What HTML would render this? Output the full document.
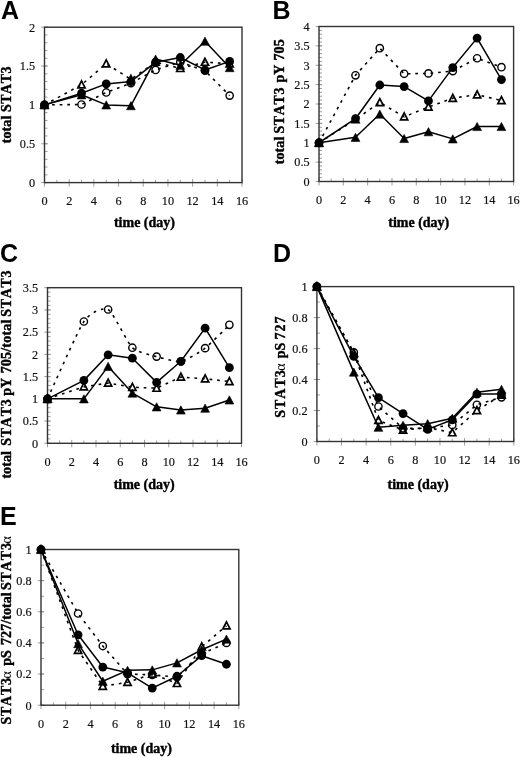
<!DOCTYPE html>
<html><head><meta charset="utf-8"><title>STAT3 time course</title>
<style>
html,body{margin:0;padding:0;background:#fff;}
body{width:520px;height:757px;overflow:hidden;}
svg{display:block;filter:blur(0.35px);}
text{font-kerning:none;}
.L{font-family:"Liberation Sans",sans-serif;font-weight:bold;font-size:25px;fill:#000;}
.t{font-family:"Liberation Serif",serif;font-size:13.3px;fill:#111;stroke:#111;stroke-width:0.2;}
.b{font-family:"Liberation Serif",serif;font-weight:bold;font-size:14px;fill:#000;stroke:#000;stroke-width:0.4;}
.a{font-family:"Liberation Serif",serif;font-size:14px;fill:#000;}
.ax{fill:none;stroke:#333;stroke-width:1.4;}
.tk{fill:none;stroke:#8c8c8c;stroke-width:0.85;}
.sl{fill:none;stroke:#000;stroke-width:1.5;stroke-linejoin:round;}
.dl{fill:none;stroke:#000;stroke-width:1.6;stroke-dasharray:2.7 4.9;}
.fc{fill:#000;}
.ft{fill:#000;stroke:#000;stroke-width:0.6;stroke-linejoin:round;}
.oc{fill:none;stroke:#000;stroke-width:1.4;}
.ot{fill:none;stroke:#000;stroke-width:1.7;stroke-linejoin:miter;}
</style></head>
<body><svg width="520" height="757" viewBox="0 0 520 757">
<text x="1" y="18.7" class="L">A</text>
<path d="M44.5 182.6h3 M44.5 174.83h3 M44.5 167.06h3 M44.5 159.29h3 M44.5 151.52h3 M44.5 143.75h3 M44.5 135.98h3 M44.5 128.21h3 M44.5 120.44h3 M44.5 112.67h3 M44.5 104.9h3 M44.5 97.13h3 M44.5 89.36h3 M44.5 81.59h3 M44.5 73.82h3 M44.5 66.05h3 M44.5 58.28h3 M44.5 50.51h3 M44.5 42.74h3 M44.5 34.97h3 M44.5 27.2h3 M41.2 182.6h6.5 M41.2 143.75h6.5 M41.2 104.9h6.5 M41.2 66.05h6.5 M41.2 27.2h6.5 M44.5 179.1v7.5 M56.84 179.8v2.8 M69.19 179.1v7.5 M81.53 179.8v2.8 M93.88 179.1v7.5 M106.22 179.8v2.8 M118.56 179.1v7.5 M130.91 179.8v2.8 M143.25 179.1v7.5 M155.59 179.8v2.8 M167.94 179.1v7.5 M180.28 179.8v2.8 M192.62 179.1v7.5 M204.97 179.8v2.8 M217.31 179.1v7.5 M229.66 179.8v2.8 M242 179.1v7.5" class="tk"/>
<rect x="44.5" y="27.2" width="197.5" height="155.4" class="ax"/>
<text x="35.1" y="186.9" class="t" text-anchor="end" textLength="6.12" lengthAdjust="spacingAndGlyphs">0</text>
<text x="35.1" y="148.05" class="t" text-anchor="end" textLength="15.29" lengthAdjust="spacingAndGlyphs">0.5</text>
<text x="35.1" y="109.2" class="t" text-anchor="end" textLength="6.12" lengthAdjust="spacingAndGlyphs">1</text>
<text x="35.1" y="70.35" class="t" text-anchor="end" textLength="15.29" lengthAdjust="spacingAndGlyphs">1.5</text>
<text x="35.1" y="31.5" class="t" text-anchor="end" textLength="6.12" lengthAdjust="spacingAndGlyphs">2</text>
<text x="44.5" y="204.9" class="t" text-anchor="middle" textLength="6.12" lengthAdjust="spacingAndGlyphs">0</text>
<text x="69.19" y="204.9" class="t" text-anchor="middle" textLength="6.12" lengthAdjust="spacingAndGlyphs">2</text>
<text x="93.88" y="204.9" class="t" text-anchor="middle" textLength="6.12" lengthAdjust="spacingAndGlyphs">4</text>
<text x="118.56" y="204.9" class="t" text-anchor="middle" textLength="6.12" lengthAdjust="spacingAndGlyphs">6</text>
<text x="143.25" y="204.9" class="t" text-anchor="middle" textLength="6.12" lengthAdjust="spacingAndGlyphs">8</text>
<text x="167.94" y="204.9" class="t" text-anchor="middle" textLength="12.24" lengthAdjust="spacingAndGlyphs">10</text>
<text x="192.62" y="204.9" class="t" text-anchor="middle" textLength="12.24" lengthAdjust="spacingAndGlyphs">12</text>
<text x="217.31" y="204.9" class="t" text-anchor="middle" textLength="12.24" lengthAdjust="spacingAndGlyphs">14</text>
<text x="242" y="204.9" class="t" text-anchor="middle" textLength="12.24" lengthAdjust="spacingAndGlyphs">16</text>
<text x="144.45" y="226.9" class="b" text-anchor="middle">time (day)</text>
<text transform="translate(10.9 143.1) rotate(-90)" x="-0.23" class="b" textLength="27.67" lengthAdjust="spacing">total</text>
<text transform="translate(10.9 111.3) rotate(-90)" x="-0.75" class="b" textLength="45.53" lengthAdjust="spacing">STAT3</text>
<path d="M44.5 104.9 L81.53 104.51 L106.22 92.47 L130.91 83.14 L155.59 69.93 L180.28 62.16 L204.97 70.71 L229.66 95.58" class="dl"/>
<path d="M44.5 104.9 L81.53 84.7 L106.22 63.72 L130.91 79.26 L155.59 62.16 L180.28 68.38 L204.97 62.16 L229.66 63.72" class="dl"/>
<path d="M44.5 104.9 L81.53 94.8 L106.22 104.9 L130.91 105.68 L155.59 59.06 L180.28 65.27 L204.97 41.19 L229.66 67.6" class="sl"/>
<path d="M44.5 104.9 L81.53 93.25 L106.22 83.92 L130.91 81.59 L155.59 62.16 L180.28 57.5 L204.97 69.93 L229.66 61.39" class="sl"/>
<circle cx="44.5" cy="104.9" r="3.65" class="oc"/>
<circle cx="81.53" cy="104.51" r="3.65" class="oc"/>
<circle cx="106.22" cy="92.47" r="3.65" class="oc"/>
<circle cx="130.91" cy="83.14" r="3.65" class="oc"/>
<circle cx="155.59" cy="69.93" r="3.65" class="oc"/>
<circle cx="180.28" cy="62.16" r="3.65" class="oc"/>
<circle cx="204.97" cy="70.71" r="3.65" class="oc"/>
<circle cx="229.66" cy="95.58" r="3.65" class="oc"/>
<path d="M44.5 101l-3.6 7h7.2z" class="ot"/>
<path d="M81.53 80.8l-3.6 7h7.2z" class="ot"/>
<path d="M106.22 59.82l-3.6 7h7.2z" class="ot"/>
<path d="M130.91 75.36l-3.6 7h7.2z" class="ot"/>
<path d="M155.59 58.26l-3.6 7h7.2z" class="ot"/>
<path d="M180.28 64.48l-3.6 7h7.2z" class="ot"/>
<path d="M204.97 58.26l-3.6 7h7.2z" class="ot"/>
<path d="M229.66 59.82l-3.6 7h7.2z" class="ot"/>
<path d="M44.5 100.8l-4.4 8.2h8.8z" class="ft"/>
<path d="M81.53 90.7l-4.4 8.2h8.8z" class="ft"/>
<path d="M106.22 100.8l-4.4 8.2h8.8z" class="ft"/>
<path d="M130.91 101.58l-4.4 8.2h8.8z" class="ft"/>
<path d="M155.59 54.96l-4.4 8.2h8.8z" class="ft"/>
<path d="M180.28 61.17l-4.4 8.2h8.8z" class="ft"/>
<path d="M204.97 37.09l-4.4 8.2h8.8z" class="ft"/>
<path d="M229.66 63.5l-4.4 8.2h8.8z" class="ft"/>
<circle cx="44.5" cy="104.9" r="4.4" class="fc"/>
<circle cx="81.53" cy="93.25" r="4.4" class="fc"/>
<circle cx="106.22" cy="83.92" r="4.4" class="fc"/>
<circle cx="130.91" cy="81.59" r="4.4" class="fc"/>
<circle cx="155.59" cy="62.16" r="4.4" class="fc"/>
<circle cx="180.28" cy="57.5" r="4.4" class="fc"/>
<circle cx="204.97" cy="69.93" r="4.4" class="fc"/>
<circle cx="229.66" cy="61.39" r="4.4" class="fc"/>
<text x="272.5" y="18.5" class="L">B</text>
<path d="M319 181.5h3 M319 177.62h3 M319 173.75h3 M319 169.88h3 M319 166h3 M319 162.12h3 M319 158.25h3 M319 154.38h3 M319 150.5h3 M319 146.62h3 M319 142.75h3 M319 138.88h3 M319 135h3 M319 131.12h3 M319 127.25h3 M319 123.38h3 M319 119.5h3 M319 115.62h3 M319 111.75h3 M319 107.88h3 M319 104h3 M319 100.12h3 M319 96.25h3 M319 92.37h3 M319 88.5h3 M319 84.62h3 M319 80.75h3 M319 76.88h3 M319 73h3 M319 69.12h3 M319 65.25h3 M319 61.38h3 M319 57.5h3 M319 53.62h3 M319 49.75h3 M319 45.88h3 M319 42h3 M319 38.12h3 M319 34.25h3 M319 30.38h3 M319 26.5h3 M315.7 181.5h6.5 M315.7 162.12h6.5 M315.7 142.75h6.5 M315.7 123.38h6.5 M315.7 104h6.5 M315.7 84.62h6.5 M315.7 65.25h6.5 M315.7 45.88h6.5 M315.7 26.5h6.5 M319 178v7.5 M331.16 178.7v2.8 M343.32 178v7.5 M355.49 178.7v2.8 M367.65 178v7.5 M379.81 178.7v2.8 M391.98 178v7.5 M404.14 178.7v2.8 M416.3 178v7.5 M428.46 178.7v2.8 M440.62 178v7.5 M452.79 178.7v2.8 M464.95 178v7.5 M477.11 178.7v2.8 M489.28 178v7.5 M501.44 178.7v2.8 M513.6 178v7.5" class="tk"/>
<rect x="319" y="26.5" width="194.6" height="155" class="ax"/>
<text x="309.6" y="185.8" class="t" text-anchor="end" textLength="6.12" lengthAdjust="spacingAndGlyphs">0</text>
<text x="309.6" y="166.43" class="t" text-anchor="end" textLength="15.29" lengthAdjust="spacingAndGlyphs">0.5</text>
<text x="309.6" y="147.05" class="t" text-anchor="end" textLength="6.12" lengthAdjust="spacingAndGlyphs">1</text>
<text x="309.6" y="127.67" class="t" text-anchor="end" textLength="15.29" lengthAdjust="spacingAndGlyphs">1.5</text>
<text x="309.6" y="108.3" class="t" text-anchor="end" textLength="6.12" lengthAdjust="spacingAndGlyphs">2</text>
<text x="309.6" y="88.92" class="t" text-anchor="end" textLength="15.29" lengthAdjust="spacingAndGlyphs">2.5</text>
<text x="309.6" y="69.55" class="t" text-anchor="end" textLength="6.12" lengthAdjust="spacingAndGlyphs">3</text>
<text x="309.6" y="50.17" class="t" text-anchor="end" textLength="15.29" lengthAdjust="spacingAndGlyphs">3.5</text>
<text x="309.6" y="30.8" class="t" text-anchor="end" textLength="6.12" lengthAdjust="spacingAndGlyphs">4</text>
<text x="319" y="203.8" class="t" text-anchor="middle" textLength="6.12" lengthAdjust="spacingAndGlyphs">0</text>
<text x="343.32" y="203.8" class="t" text-anchor="middle" textLength="6.12" lengthAdjust="spacingAndGlyphs">2</text>
<text x="367.65" y="203.8" class="t" text-anchor="middle" textLength="6.12" lengthAdjust="spacingAndGlyphs">4</text>
<text x="391.98" y="203.8" class="t" text-anchor="middle" textLength="6.12" lengthAdjust="spacingAndGlyphs">6</text>
<text x="416.3" y="203.8" class="t" text-anchor="middle" textLength="6.12" lengthAdjust="spacingAndGlyphs">8</text>
<text x="440.62" y="203.8" class="t" text-anchor="middle" textLength="12.24" lengthAdjust="spacingAndGlyphs">10</text>
<text x="464.95" y="203.8" class="t" text-anchor="middle" textLength="12.24" lengthAdjust="spacingAndGlyphs">12</text>
<text x="489.28" y="203.8" class="t" text-anchor="middle" textLength="12.24" lengthAdjust="spacingAndGlyphs">14</text>
<text x="513.6" y="203.8" class="t" text-anchor="middle" textLength="12.24" lengthAdjust="spacingAndGlyphs">16</text>
<text x="418.75" y="226.9" class="b" text-anchor="middle">time (day)</text>
<text transform="translate(284.2 164) rotate(-90)" x="-0.23" class="b" textLength="27.57" lengthAdjust="spacing">total</text>
<text transform="translate(284.2 132.8) rotate(-90)" x="-0.75" class="b" textLength="46.03" lengthAdjust="spacing">STAT3</text>
<text transform="translate(284.2 82.4) rotate(-90)" x="-0.18" class="b">pY</text>
<text transform="translate(284.2 59.8) rotate(-90)" x="-0.8" class="b" textLength="21.31" lengthAdjust="spacing">705</text>
<path d="M319 142.75 L355.49 75.32 L379.81 48.2 L404.14 73.78 L428.46 73.39 L452.79 71.06 L477.11 58.27 L501.44 67.19" class="dl"/>
<path d="M319 142.75 L355.49 119.5 L379.81 102.45 L404.14 116.79 L428.46 107.1 L452.79 98.19 L477.11 94.7 L501.44 100.51" class="dl"/>
<path d="M319 142.75 L355.49 137.32 L379.81 114.08 L404.14 138.49 L428.46 131.71 L452.79 138.88 L477.11 126.47 L501.44 126.47" class="sl"/>
<path d="M319 142.75 L355.49 118.72 L379.81 85.01 L404.14 86.56 L428.46 100.9 L452.79 67.58 L477.11 38.12 L501.44 79.59" class="sl"/>
<circle cx="319" cy="142.75" r="3.65" class="oc"/>
<circle cx="355.49" cy="75.32" r="3.65" class="oc"/>
<circle cx="379.81" cy="48.2" r="3.65" class="oc"/>
<circle cx="404.14" cy="73.78" r="3.65" class="oc"/>
<circle cx="428.46" cy="73.39" r="3.65" class="oc"/>
<circle cx="452.79" cy="71.06" r="3.65" class="oc"/>
<circle cx="477.11" cy="58.27" r="3.65" class="oc"/>
<circle cx="501.44" cy="67.19" r="3.65" class="oc"/>
<path d="M319 138.85l-3.6 7h7.2z" class="ot"/>
<path d="M355.49 115.6l-3.6 7h7.2z" class="ot"/>
<path d="M379.81 98.55l-3.6 7h7.2z" class="ot"/>
<path d="M404.14 112.89l-3.6 7h7.2z" class="ot"/>
<path d="M428.46 103.2l-3.6 7h7.2z" class="ot"/>
<path d="M452.79 94.29l-3.6 7h7.2z" class="ot"/>
<path d="M477.11 90.8l-3.6 7h7.2z" class="ot"/>
<path d="M501.44 96.61l-3.6 7h7.2z" class="ot"/>
<path d="M319 138.65l-4.4 8.2h8.8z" class="ft"/>
<path d="M355.49 133.22l-4.4 8.2h8.8z" class="ft"/>
<path d="M379.81 109.98l-4.4 8.2h8.8z" class="ft"/>
<path d="M404.14 134.39l-4.4 8.2h8.8z" class="ft"/>
<path d="M428.46 127.61l-4.4 8.2h8.8z" class="ft"/>
<path d="M452.79 134.78l-4.4 8.2h8.8z" class="ft"/>
<path d="M477.11 122.38l-4.4 8.2h8.8z" class="ft"/>
<path d="M501.44 122.38l-4.4 8.2h8.8z" class="ft"/>
<circle cx="319" cy="142.75" r="4.4" class="fc"/>
<circle cx="355.49" cy="118.72" r="4.4" class="fc"/>
<circle cx="379.81" cy="85.01" r="4.4" class="fc"/>
<circle cx="404.14" cy="86.56" r="4.4" class="fc"/>
<circle cx="428.46" cy="100.9" r="4.4" class="fc"/>
<circle cx="452.79" cy="67.58" r="4.4" class="fc"/>
<circle cx="477.11" cy="38.12" r="4.4" class="fc"/>
<circle cx="501.44" cy="79.59" r="4.4" class="fc"/>
<text x="0" y="262.2" class="L">C</text>
<path d="M47.5 443.3h3 M47.5 438.85h3 M47.5 434.41h3 M47.5 429.96h3 M47.5 425.52h3 M47.5 421.07h3 M47.5 416.63h3 M47.5 412.18h3 M47.5 407.73h3 M47.5 403.29h3 M47.5 398.84h3 M47.5 394.4h3 M47.5 389.95h3 M47.5 385.51h3 M47.5 381.06h3 M47.5 376.61h3 M47.5 372.17h3 M47.5 367.72h3 M47.5 363.28h3 M47.5 358.83h3 M47.5 354.39h3 M47.5 349.94h3 M47.5 345.49h3 M47.5 341.05h3 M47.5 336.6h3 M47.5 332.16h3 M47.5 327.71h3 M47.5 323.27h3 M47.5 318.82h3 M47.5 314.37h3 M47.5 309.93h3 M47.5 305.48h3 M47.5 301.04h3 M47.5 296.59h3 M47.5 292.15h3 M47.5 287.7h3 M44.2 443.3h6.5 M44.2 421.07h6.5 M44.2 398.84h6.5 M44.2 376.61h6.5 M44.2 354.39h6.5 M44.2 332.16h6.5 M44.2 309.93h6.5 M44.2 287.7h6.5 M47.5 439.8v7.5 M59.62 440.5v2.8 M71.75 439.8v7.5 M83.88 440.5v2.8 M96 439.8v7.5 M108.12 440.5v2.8 M120.25 439.8v7.5 M132.38 440.5v2.8 M144.5 439.8v7.5 M156.62 440.5v2.8 M168.75 439.8v7.5 M180.88 440.5v2.8 M193 439.8v7.5 M205.12 440.5v2.8 M217.25 439.8v7.5 M229.38 440.5v2.8 M241.5 439.8v7.5" class="tk"/>
<rect x="47.5" y="287.7" width="194" height="155.6" class="ax"/>
<text x="38.1" y="447.6" class="t" text-anchor="end" textLength="6.12" lengthAdjust="spacingAndGlyphs">0</text>
<text x="38.1" y="425.37" class="t" text-anchor="end" textLength="15.29" lengthAdjust="spacingAndGlyphs">0.5</text>
<text x="38.1" y="403.14" class="t" text-anchor="end" textLength="6.12" lengthAdjust="spacingAndGlyphs">1</text>
<text x="38.1" y="380.91" class="t" text-anchor="end" textLength="15.29" lengthAdjust="spacingAndGlyphs">1.5</text>
<text x="38.1" y="358.69" class="t" text-anchor="end" textLength="6.12" lengthAdjust="spacingAndGlyphs">2</text>
<text x="38.1" y="336.46" class="t" text-anchor="end" textLength="15.29" lengthAdjust="spacingAndGlyphs">2.5</text>
<text x="38.1" y="314.23" class="t" text-anchor="end" textLength="6.12" lengthAdjust="spacingAndGlyphs">3</text>
<text x="38.1" y="292" class="t" text-anchor="end" textLength="15.29" lengthAdjust="spacingAndGlyphs">3.5</text>
<text x="47.5" y="465.6" class="t" text-anchor="middle" textLength="6.12" lengthAdjust="spacingAndGlyphs">0</text>
<text x="71.75" y="465.6" class="t" text-anchor="middle" textLength="6.12" lengthAdjust="spacingAndGlyphs">2</text>
<text x="96" y="465.6" class="t" text-anchor="middle" textLength="6.12" lengthAdjust="spacingAndGlyphs">4</text>
<text x="120.25" y="465.6" class="t" text-anchor="middle" textLength="6.12" lengthAdjust="spacingAndGlyphs">6</text>
<text x="144.5" y="465.6" class="t" text-anchor="middle" textLength="6.12" lengthAdjust="spacingAndGlyphs">8</text>
<text x="168.75" y="465.6" class="t" text-anchor="middle" textLength="12.24" lengthAdjust="spacingAndGlyphs">10</text>
<text x="193" y="465.6" class="t" text-anchor="middle" textLength="12.24" lengthAdjust="spacingAndGlyphs">12</text>
<text x="217.25" y="465.6" class="t" text-anchor="middle" textLength="12.24" lengthAdjust="spacingAndGlyphs">14</text>
<text x="241.5" y="465.6" class="t" text-anchor="middle" textLength="12.24" lengthAdjust="spacingAndGlyphs">16</text>
<text x="144.15" y="488.9" class="b" text-anchor="middle">time (day)</text>
<text transform="translate(10.9 478.4) rotate(-90)" x="-0.23" class="b" textLength="27.57" lengthAdjust="spacing">total</text>
<text transform="translate(10.9 444.9) rotate(-90)" x="-0.75" class="b" textLength="46.33" lengthAdjust="spacing">STAT3</text>
<text transform="translate(10.9 395.6) rotate(-90)" x="-0.18" class="b">pY</text>
<text transform="translate(10.9 372.5) rotate(-90)" x="-0.8" class="b" textLength="53.64" lengthAdjust="spacing">705/total</text>
<text transform="translate(10.9 316.1) rotate(-90)" x="-0.75" class="b" textLength="46.43" lengthAdjust="spacing">STAT3</text>
<path d="M47.5 398.84 C51.14 391.11 77.81 330.42 83.88 321.49 C89.94 312.55 103.28 306.86 108.12 309.48 C112.97 312.11 127.53 343 132.38 347.72 C137.22 352.43 151.78 355.23 156.62 356.61 C161.47 357.99 176.03 362.34 180.88 361.5 C185.72 360.65 200.28 351.83 205.12 348.16 C209.97 344.49 226.95 327.16 229.38 324.82" class="dl"/>
<path d="M47.5 398.84 L83.88 386.84 L108.12 383.06 L132.38 387.28 L156.62 388.17 L180.88 377.06 L205.12 378.84 L229.38 381.5" class="dl"/>
<path d="M47.5 398.84 L83.88 398.84 L108.12 366.39 L132.38 393.06 L156.62 406.85 L180.88 409.96 L205.12 408.18 L229.38 399.95" class="sl"/>
<path d="M47.5 398.84 L83.88 380.39 L108.12 354.83 L132.38 358.16 L156.62 382.39 L180.88 361.28 L205.12 328.16 L229.38 367.72" class="sl"/>
<circle cx="47.5" cy="398.84" r="3.65" class="oc"/>
<circle cx="83.88" cy="321.49" r="3.65" class="oc"/>
<circle cx="108.12" cy="309.48" r="3.65" class="oc"/>
<circle cx="132.38" cy="347.72" r="3.65" class="oc"/>
<circle cx="156.62" cy="356.61" r="3.65" class="oc"/>
<circle cx="180.88" cy="361.5" r="3.65" class="oc"/>
<circle cx="205.12" cy="348.16" r="3.65" class="oc"/>
<circle cx="229.38" cy="324.82" r="3.65" class="oc"/>
<path d="M47.5 394.94l-3.6 7h7.2z" class="ot"/>
<path d="M83.88 382.94l-3.6 7h7.2z" class="ot"/>
<path d="M108.12 379.16l-3.6 7h7.2z" class="ot"/>
<path d="M132.38 383.38l-3.6 7h7.2z" class="ot"/>
<path d="M156.62 384.27l-3.6 7h7.2z" class="ot"/>
<path d="M180.88 373.16l-3.6 7h7.2z" class="ot"/>
<path d="M205.12 374.94l-3.6 7h7.2z" class="ot"/>
<path d="M229.38 377.6l-3.6 7h7.2z" class="ot"/>
<path d="M47.5 394.74l-4.4 8.2h8.8z" class="ft"/>
<path d="M83.88 394.74l-4.4 8.2h8.8z" class="ft"/>
<path d="M108.12 362.29l-4.4 8.2h8.8z" class="ft"/>
<path d="M132.38 388.96l-4.4 8.2h8.8z" class="ft"/>
<path d="M156.62 402.75l-4.4 8.2h8.8z" class="ft"/>
<path d="M180.88 405.86l-4.4 8.2h8.8z" class="ft"/>
<path d="M205.12 404.08l-4.4 8.2h8.8z" class="ft"/>
<path d="M229.38 395.85l-4.4 8.2h8.8z" class="ft"/>
<circle cx="47.5" cy="398.84" r="4.4" class="fc"/>
<circle cx="83.88" cy="380.39" r="4.4" class="fc"/>
<circle cx="108.12" cy="354.83" r="4.4" class="fc"/>
<circle cx="132.38" cy="358.16" r="4.4" class="fc"/>
<circle cx="156.62" cy="382.39" r="4.4" class="fc"/>
<circle cx="180.88" cy="361.28" r="4.4" class="fc"/>
<circle cx="205.12" cy="328.16" r="4.4" class="fc"/>
<circle cx="229.38" cy="367.72" r="4.4" class="fc"/>
<text x="272.9" y="262.1" class="L">D</text>
<path d="M316.9 441.5h3 M316.9 426.01h3 M316.9 410.52h3 M316.9 395.03h3 M316.9 379.54h3 M316.9 364.05h3 M316.9 348.56h3 M316.9 333.07h3 M316.9 317.58h3 M316.9 302.09h3 M316.9 286.6h3 M313.6 441.5h6.5 M313.6 410.52h6.5 M313.6 379.54h6.5 M313.6 348.56h6.5 M313.6 317.58h6.5 M313.6 286.6h6.5 M316.9 438v7.5 M329.21 438.7v2.8 M341.51 438v7.5 M353.82 438.7v2.8 M366.12 438v7.5 M378.43 438.7v2.8 M390.74 438v7.5 M403.04 438.7v2.8 M415.35 438v7.5 M427.66 438.7v2.8 M439.96 438v7.5 M452.27 438.7v2.8 M464.57 438v7.5 M476.88 438.7v2.8 M489.19 438v7.5 M501.49 438.7v2.8 M513.8 438v7.5" class="tk"/>
<rect x="316.9" y="286.6" width="196.9" height="154.9" class="ax"/>
<text x="307.5" y="445.8" class="t" text-anchor="end" textLength="6.12" lengthAdjust="spacingAndGlyphs">0</text>
<text x="307.5" y="414.82" class="t" text-anchor="end" textLength="15.29" lengthAdjust="spacingAndGlyphs">0.2</text>
<text x="307.5" y="383.84" class="t" text-anchor="end" textLength="15.29" lengthAdjust="spacingAndGlyphs">0.4</text>
<text x="307.5" y="352.86" class="t" text-anchor="end" textLength="15.29" lengthAdjust="spacingAndGlyphs">0.6</text>
<text x="307.5" y="321.88" class="t" text-anchor="end" textLength="15.29" lengthAdjust="spacingAndGlyphs">0.8</text>
<text x="307.5" y="290.9" class="t" text-anchor="end" textLength="6.12" lengthAdjust="spacingAndGlyphs">1</text>
<text x="316.9" y="463.8" class="t" text-anchor="middle" textLength="6.12" lengthAdjust="spacingAndGlyphs">0</text>
<text x="341.51" y="463.8" class="t" text-anchor="middle" textLength="6.12" lengthAdjust="spacingAndGlyphs">2</text>
<text x="366.12" y="463.8" class="t" text-anchor="middle" textLength="6.12" lengthAdjust="spacingAndGlyphs">4</text>
<text x="390.74" y="463.8" class="t" text-anchor="middle" textLength="6.12" lengthAdjust="spacingAndGlyphs">6</text>
<text x="415.35" y="463.8" class="t" text-anchor="middle" textLength="6.12" lengthAdjust="spacingAndGlyphs">8</text>
<text x="439.96" y="463.8" class="t" text-anchor="middle" textLength="12.24" lengthAdjust="spacingAndGlyphs">10</text>
<text x="464.57" y="463.8" class="t" text-anchor="middle" textLength="12.24" lengthAdjust="spacingAndGlyphs">12</text>
<text x="489.19" y="463.8" class="t" text-anchor="middle" textLength="12.24" lengthAdjust="spacingAndGlyphs">14</text>
<text x="513.8" y="463.8" class="t" text-anchor="middle" textLength="12.24" lengthAdjust="spacingAndGlyphs">16</text>
<text x="418.05" y="489.1" class="b" text-anchor="middle">time (day)</text>
<text transform="translate(284.6 417) rotate(-90)" x="-0.75" class="b" textLength="47.53" lengthAdjust="spacing">STAT3</text>
<text transform="translate(284.6 370.3) rotate(-90)" x="-0.53" class="a">α</text>
<text transform="translate(284.6 358) rotate(-90)" x="-0.18" class="b">pS</text>
<text transform="translate(284.6 338.6) rotate(-90)" x="-0.8" class="b" textLength="22.94" lengthAdjust="spacing">727</text>
<path d="M316.9 286.6 L353.82 352.43 L378.43 406.49 L403.04 428.33 L427.66 428.33 L452.27 424.93 L476.88 404.79 L501.49 397.35" class="dl"/>
<path d="M316.9 286.6 L353.82 353.21 L378.43 420.28 L403.04 430.04 L427.66 427.56 L452.27 432.67 L476.88 410.52 L501.49 395.03" class="dl"/>
<path d="M316.9 286.6 L353.82 372.1 L378.43 427.25 L403.04 425.24 L427.66 423.69 L452.27 418.26 L476.88 392.24 L501.49 389.3" class="sl"/>
<path d="M316.9 286.6 L353.82 356.31 L378.43 397.66 L403.04 413.62 L427.66 429.42 L452.27 419.81 L476.88 394.1 L501.49 394.1" class="sl"/>
<circle cx="316.9" cy="286.6" r="3.65" class="oc"/>
<circle cx="353.82" cy="352.43" r="3.65" class="oc"/>
<circle cx="378.43" cy="406.49" r="3.65" class="oc"/>
<circle cx="403.04" cy="428.33" r="3.65" class="oc"/>
<circle cx="427.66" cy="428.33" r="3.65" class="oc"/>
<circle cx="452.27" cy="424.93" r="3.65" class="oc"/>
<circle cx="476.88" cy="404.79" r="3.65" class="oc"/>
<circle cx="501.49" cy="397.35" r="3.65" class="oc"/>
<path d="M316.9 282.7l-3.6 7h7.2z" class="ot"/>
<path d="M353.82 349.31l-3.6 7h7.2z" class="ot"/>
<path d="M378.43 416.38l-3.6 7h7.2z" class="ot"/>
<path d="M403.04 426.14l-3.6 7h7.2z" class="ot"/>
<path d="M427.66 423.66l-3.6 7h7.2z" class="ot"/>
<path d="M452.27 428.77l-3.6 7h7.2z" class="ot"/>
<path d="M476.88 406.62l-3.6 7h7.2z" class="ot"/>
<path d="M501.49 391.13l-3.6 7h7.2z" class="ot"/>
<path d="M316.9 282.5l-4.4 8.2h8.8z" class="ft"/>
<path d="M353.82 368l-4.4 8.2h8.8z" class="ft"/>
<path d="M378.43 423.15l-4.4 8.2h8.8z" class="ft"/>
<path d="M403.04 421.14l-4.4 8.2h8.8z" class="ft"/>
<path d="M427.66 419.59l-4.4 8.2h8.8z" class="ft"/>
<path d="M452.27 414.16l-4.4 8.2h8.8z" class="ft"/>
<path d="M476.88 388.14l-4.4 8.2h8.8z" class="ft"/>
<path d="M501.49 385.2l-4.4 8.2h8.8z" class="ft"/>
<circle cx="316.9" cy="286.6" r="4.4" class="fc"/>
<circle cx="353.82" cy="356.31" r="4.4" class="fc"/>
<circle cx="378.43" cy="397.66" r="4.4" class="fc"/>
<circle cx="403.04" cy="413.62" r="4.4" class="fc"/>
<circle cx="427.66" cy="429.42" r="4.4" class="fc"/>
<circle cx="452.27" cy="419.81" r="4.4" class="fc"/>
<circle cx="476.88" cy="394.1" r="4.4" class="fc"/>
<circle cx="501.49" cy="394.1" r="4.4" class="fc"/>
<text x="0.1" y="524.6" class="L">E</text>
<path d="M41 705.2h3 M41 689.63h3 M41 674.06h3 M41 658.49h3 M41 642.92h3 M41 627.35h3 M41 611.78h3 M41 596.21h3 M41 580.64h3 M41 565.07h3 M41 549.5h3 M37.7 705.2h6.5 M37.7 674.06h6.5 M37.7 642.92h6.5 M37.7 611.78h6.5 M37.7 580.64h6.5 M37.7 549.5h6.5 M41 701.7v7.5 M53.36 702.4v2.8 M65.72 701.7v7.5 M78.09 702.4v2.8 M90.45 701.7v7.5 M102.81 702.4v2.8 M115.18 701.7v7.5 M127.54 702.4v2.8 M139.9 701.7v7.5 M152.26 702.4v2.8 M164.62 701.7v7.5 M176.99 702.4v2.8 M189.35 701.7v7.5 M201.71 702.4v2.8 M214.08 701.7v7.5 M226.44 702.4v2.8 M238.8 701.7v7.5" class="tk"/>
<rect x="41" y="549.5" width="197.8" height="155.7" class="ax"/>
<text x="31.6" y="709.5" class="t" text-anchor="end" textLength="6.12" lengthAdjust="spacingAndGlyphs">0</text>
<text x="31.6" y="678.36" class="t" text-anchor="end" textLength="15.29" lengthAdjust="spacingAndGlyphs">0.2</text>
<text x="31.6" y="647.22" class="t" text-anchor="end" textLength="15.29" lengthAdjust="spacingAndGlyphs">0.4</text>
<text x="31.6" y="616.08" class="t" text-anchor="end" textLength="15.29" lengthAdjust="spacingAndGlyphs">0.6</text>
<text x="31.6" y="584.94" class="t" text-anchor="end" textLength="15.29" lengthAdjust="spacingAndGlyphs">0.8</text>
<text x="31.6" y="553.8" class="t" text-anchor="end" textLength="6.12" lengthAdjust="spacingAndGlyphs">1</text>
<text x="41" y="727.9" class="t" text-anchor="middle" textLength="6.12" lengthAdjust="spacingAndGlyphs">0</text>
<text x="65.72" y="727.9" class="t" text-anchor="middle" textLength="6.12" lengthAdjust="spacingAndGlyphs">2</text>
<text x="90.45" y="727.9" class="t" text-anchor="middle" textLength="6.12" lengthAdjust="spacingAndGlyphs">4</text>
<text x="115.18" y="727.9" class="t" text-anchor="middle" textLength="6.12" lengthAdjust="spacingAndGlyphs">6</text>
<text x="139.9" y="727.9" class="t" text-anchor="middle" textLength="6.12" lengthAdjust="spacingAndGlyphs">8</text>
<text x="164.62" y="727.9" class="t" text-anchor="middle" textLength="12.24" lengthAdjust="spacingAndGlyphs">10</text>
<text x="189.35" y="727.9" class="t" text-anchor="middle" textLength="12.24" lengthAdjust="spacingAndGlyphs">12</text>
<text x="214.08" y="727.9" class="t" text-anchor="middle" textLength="12.24" lengthAdjust="spacingAndGlyphs">14</text>
<text x="238.8" y="727.9" class="t" text-anchor="middle" textLength="12.24" lengthAdjust="spacingAndGlyphs">16</text>
<text x="141.4" y="752.9" class="b" text-anchor="middle">time (day)</text>
<text transform="translate(11 723.8) rotate(-90)" x="-0.75" class="b" textLength="46.53" lengthAdjust="spacing">STAT3</text>
<text transform="translate(11 678) rotate(-90)" x="-0.53" class="a">α</text>
<text transform="translate(11 665.6) rotate(-90)" x="-0.18" class="b">pS</text>
<text transform="translate(11 644.2) rotate(-90)" x="-0.8" class="b" textLength="52.74" lengthAdjust="spacing">727/total</text>
<text transform="translate(11 589.3) rotate(-90)" x="-0.75" class="b" textLength="47.13" lengthAdjust="spacing">STAT3</text>
<text transform="translate(11 543) rotate(-90)" x="-0.53" class="a">α</text>
<path d="M41 549.5 L78.09 613.49 L102.81 646.03 L127.54 674.06 L152.26 674.84 L176.99 677.17 L201.71 653.82 L226.44 642.92" class="dl"/>
<path d="M41 549.5 L78.09 650.24 L102.81 686.2 L127.54 682.31 L152.26 674.06 L176.99 683.4 L201.71 646.81 L226.44 625.79" class="dl"/>
<path d="M41 549.5 L78.09 643.54 L102.81 681.22 L127.54 670.32 L152.26 669.86 L176.99 662.85 L201.71 649.77 L226.44 639.18" class="sl"/>
<path d="M41 549.5 L78.09 634.82 L102.81 667.05 L127.54 672.81 L152.26 688.07 L176.99 676.24 L201.71 655.69 L226.44 664.25" class="sl"/>
<circle cx="41" cy="549.5" r="3.65" class="oc"/>
<circle cx="78.09" cy="613.49" r="3.65" class="oc"/>
<circle cx="102.81" cy="646.03" r="3.65" class="oc"/>
<circle cx="127.54" cy="674.06" r="3.65" class="oc"/>
<circle cx="152.26" cy="674.84" r="3.65" class="oc"/>
<circle cx="176.99" cy="677.17" r="3.65" class="oc"/>
<circle cx="201.71" cy="653.82" r="3.65" class="oc"/>
<circle cx="226.44" cy="642.92" r="3.65" class="oc"/>
<path d="M41 545.6l-3.6 7h7.2z" class="ot"/>
<path d="M78.09 646.34l-3.6 7h7.2z" class="ot"/>
<path d="M102.81 682.3l-3.6 7h7.2z" class="ot"/>
<path d="M127.54 678.41l-3.6 7h7.2z" class="ot"/>
<path d="M152.26 670.16l-3.6 7h7.2z" class="ot"/>
<path d="M176.99 679.5l-3.6 7h7.2z" class="ot"/>
<path d="M201.71 642.91l-3.6 7h7.2z" class="ot"/>
<path d="M226.44 621.89l-3.6 7h7.2z" class="ot"/>
<path d="M41 545.4l-4.4 8.2h8.8z" class="ft"/>
<path d="M78.09 639.44l-4.4 8.2h8.8z" class="ft"/>
<path d="M102.81 677.12l-4.4 8.2h8.8z" class="ft"/>
<path d="M127.54 666.22l-4.4 8.2h8.8z" class="ft"/>
<path d="M152.26 665.76l-4.4 8.2h8.8z" class="ft"/>
<path d="M176.99 658.75l-4.4 8.2h8.8z" class="ft"/>
<path d="M201.71 645.67l-4.4 8.2h8.8z" class="ft"/>
<path d="M226.44 635.08l-4.4 8.2h8.8z" class="ft"/>
<circle cx="41" cy="549.5" r="4.4" class="fc"/>
<circle cx="78.09" cy="634.82" r="4.4" class="fc"/>
<circle cx="102.81" cy="667.05" r="4.4" class="fc"/>
<circle cx="127.54" cy="672.81" r="4.4" class="fc"/>
<circle cx="152.26" cy="688.07" r="4.4" class="fc"/>
<circle cx="176.99" cy="676.24" r="4.4" class="fc"/>
<circle cx="201.71" cy="655.69" r="4.4" class="fc"/>
<circle cx="226.44" cy="664.25" r="4.4" class="fc"/>
</svg></body></html>
